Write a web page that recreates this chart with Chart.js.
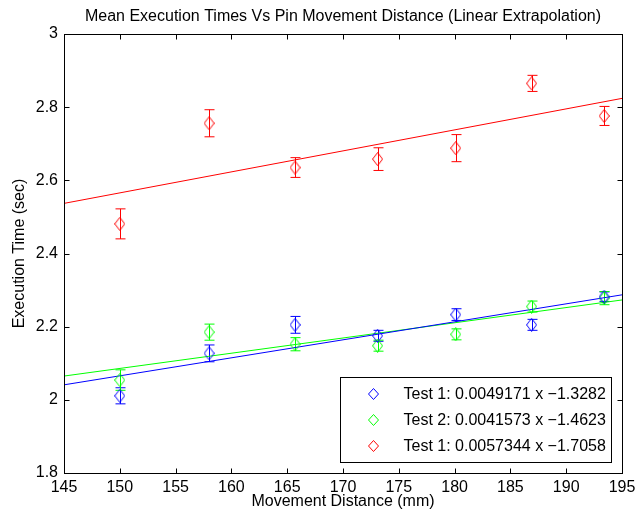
<!DOCTYPE html>
<html>
<head>
<meta charset="utf-8">
<script src="https://cdn.jsdelivr.net/npm/chart.js@4"></script>
<style>
    html, body { margin: 0; padding: 0; background: #fff; }
    #wrap { width: 635px; height: 517px; }
</style>
</head>
<body>
<div id="wrap"><canvas id="scatter-chart" width="635" height="517"></canvas></div>
<script>
// distances (mm)
const distances = [150, 158, 165.7, 173.1, 180.1, 186.9, 193.4];

// mean execution times (sec) and error half-widths
const test1Means = [2.011, 2.127, 2.205, 2.175, 2.233, 2.205, 2.282];
const test1Errs = [0.022, 0.023, 0.023, 0.015, 0.016, 0.015, 0.013];
const test2Means = [2.054, 2.185, 2.152, 2.148, 2.179, 2.255, 2.278];
const test2Errs = [0.028, 0.022, 0.018, 0.015, 0.015, 0.015, 0.018];
const test3Means = [2.481, 2.756, 2.635, 2.658, 2.688, 2.865, 2.776];
const test3Errs = [0.041, 0.037, 0.027, 0.031, 0.037, 0.022, 0.026];

// fitted lines, read at the axis ends
const fitX = [145, 195];
const fit1 = [2.041, 2.287];
const fit2 = [2.065, 2.273];
const fit3 = [2.537, 2.824];

const legendLabels = [
    'Test 1: 0.0049171 x \u22121.3282',
    'Test 2: 0.0041573 x \u22121.4623',
    'Test 1: 0.0057344 x \u22121.7058'
];

const titleText = 'Mean Execution Times Vs Pin Movement Distance (Linear Extrapolation)';

const FONT = "'Liberation Sans', Arial, Helvetica, sans-serif";

function diamond(color, w, h) {
    const c = document.createElement('canvas');
    c.width = w + 1;
    c.height = h + 1;
    const g = c.getContext('2d');
    g.strokeStyle = color;
    g.lineWidth = 1;
    g.beginPath();
    g.moveTo(w / 2 + 0.5, 0.5);
    g.lineTo(w + 0.5, h / 2 + 0.5);
    g.lineTo(w / 2 + 0.5, h + 0.5);
    g.lineTo(0.5, h / 2 + 0.5);
    g.closePath();
    g.stroke();
    return c;
}

function points(xs, ys) {
    return xs.map((x, i) => ({ x: x, y: ys[i] }));
}

function pointSet(label, ys, errs, color) {
    return {
        label: label,
        data: points(distances, ys),
        errors: errs,
        borderColor: color,
        backgroundColor: color,
        pointStyle: diamond(color, 10, 13),
        legendMark: diamond(color, 10, 11),
        pointRadius: 6,
        showLine: false,
        order: 1
    };
}

function fitSet(ys, color) {
    return {
        label: 'fit',
        data: points(fitX, ys),
        borderColor: color,
        borderWidth: 1,
        pointRadius: 0,
        showLine: true,
        isFit: true,
        order: 2
    };
}

const errorBars = {
    id: 'errorBars',
    beforeDatasetsDraw(chart) {
        const ctx = chart.ctx;
        const xs = chart.scales.x;
        const ys = chart.scales.y;
        const a = chart.chartArea;
        ctx.save();
        ctx.beginPath();
        ctx.rect(a.left, a.top, a.right - a.left, a.bottom - a.top);
        ctx.clip();
        ctx.lineWidth = 1;
        chart.data.datasets.forEach(ds => {
            if (!ds.errors) return;
            ctx.strokeStyle = ds.borderColor;
            ds.data.forEach((p, i) => {
                const px = Math.round(xs.getPixelForValue(p.x)) + 0.5;
                const top = ys.getPixelForValue(p.y + ds.errors[i]);
                const bot = ys.getPixelForValue(p.y - ds.errors[i]);
                ctx.beginPath();
                ctx.moveTo(px, top);
                ctx.lineTo(px, bot);
                ctx.moveTo(px - 5, top);
                ctx.lineTo(px + 5, top);
                ctx.moveTo(px - 5, bot);
                ctx.lineTo(px + 5, bot);
                ctx.stroke();
            });
        });
        ctx.restore();
    }
};

const frame = {
    id: 'frame',
    afterDraw(chart) {
        const ctx = chart.ctx;
        const a = chart.chartArea;
        const xs = chart.scales.x;
        const ys = chart.scales.y;
        const L = Math.round(a.left) + 0.5, R = Math.round(a.right) + 0.5;
        const T = Math.round(a.top) + 0.5, B = Math.round(a.bottom) + 0.5;
        ctx.save();
        ctx.strokeStyle = '#000';
        ctx.lineWidth = 1;
        ctx.beginPath();
        xs.ticks.forEach(t => {
            const px = Math.round(xs.getPixelForValue(t.value)) + 0.5;
            ctx.moveTo(px, B); ctx.lineTo(px, B - 5);
            ctx.moveTo(px, T); ctx.lineTo(px, T + 5);
        });
        ys.ticks.forEach(t => {
            const py = Math.round(ys.getPixelForValue(t.value)) + 0.5;
            ctx.moveTo(L, py); ctx.lineTo(L + 5, py);
            ctx.moveTo(R, py); ctx.lineTo(R - 5, py);
        });
        ctx.stroke();
        ctx.strokeRect(L, T, R - L, B - T);

        // title, centred over the axes
        ctx.fillStyle = '#000';
        ctx.font = '16px ' + FONT;
        ctx.textAlign = 'center';
        ctx.textBaseline = 'middle';
        ctx.fillText(titleText, (a.left + a.right) / 2, a.top - 17);

        // legend box, bottom right inside the axes
        const w = 271, h = 85;
        const bx = Math.round(a.right - 11 - w) + 0.5;
        const by = Math.round(a.bottom - 11 - h) + 0.5;
        ctx.fillStyle = '#fff';
        ctx.fillRect(bx, by, w, h);
        ctx.strokeRect(bx, by, w, h);
        ctx.textAlign = 'left';
        const pts = chart.data.datasets.filter(d => !d.isFit);
        pts.forEach((ds, i) => {
            const cy = by + 16 + i * 26;
            ctx.drawImage(ds.legendMark, Math.round(bx + 33 - 5.5), Math.round(cy - 6));
            ctx.fillStyle = '#000';
            ctx.fillText(legendLabels[i], bx + 63, cy + 1);
        });
        ctx.restore();
    }
};

new Chart(document.getElementById('scatter-chart'), {
    type: 'scatter',
    data: {
        datasets: [
            pointSet('Test 1', test1Means, test1Errs, '#0000ff'),
            pointSet('Test 2', test2Means, test2Errs, '#00ff00'),
            pointSet('Test 3', test3Means, test3Errs, '#ff0000'),
            fitSet(fit1, '#0000ff'),
            fitSet(fit2, '#00ff00'),
            fitSet(fit3, '#ff0000')
        ]
    },
    options: {
        responsive: false,
        animation: false,
        layout: {
            padding: { left: 0, right: 13, top: 34, bottom: 0 }
        },
        plugins: {
            legend: { display: false },
            tooltip: { enabled: false },
            title: { display: false }
        },
        scales: {
            x: {
                type: 'linear',
                min: 145,
                max: 195,
                ticks: {
                    stepSize: 5,
                    color: '#000',
                    padding: 5,
                    maxRotation: 0,
                    font: { family: FONT, size: 16 }
                },
                grid: { display: false, drawTicks: false },
                border: { display: false },
                title: {
                    display: true,
                    text: 'Movement Distance (mm)',
                    color: '#000',
                    font: { family: FONT, size: 16 },
                    padding: { top: 0, bottom: 6 }
                },
                afterFit(scale) {
                    scale.height = 44;
                    scale.paddingLeft = 0;
                    scale.paddingRight = 0;
                }
            },
            y: {
                type: 'linear',
                min: 1.8,
                max: 3,
                ticks: {
                    stepSize: 0.2,
                    color: '#000',
                    padding: 6,
                    font: { family: FONT, size: 16 },
                    callback: v => String(Number(v.toFixed(1)))
                },
                grid: { display: false, drawTicks: false },
                border: { display: false },
                title: {
                    display: true,
                    text: 'Execution Time (sec)',
                    color: '#000',
                    font: { family: FONT, size: 16 },
                    padding: { top: 10, bottom: 0 }
                },
                afterFit(scale) {
                    scale.width = 64;
                    scale.paddingTop = 0;
                    scale.paddingBottom = 0;
                }
            }
        }
    },
    plugins: [errorBars, frame]
});
</script>
</body>
</html>
